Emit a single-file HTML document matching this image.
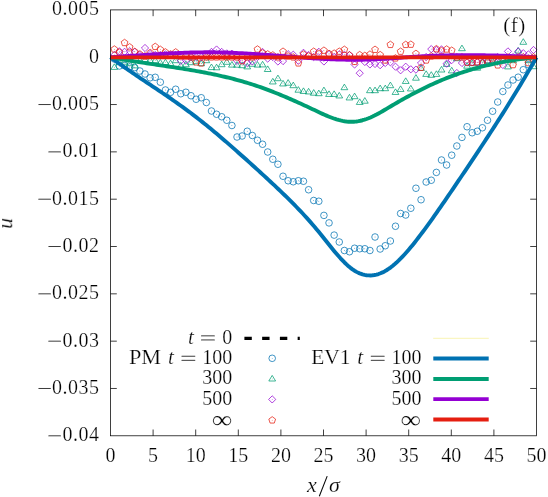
<!DOCTYPE html>
<html><head><meta charset="utf-8"><title>plot</title>
<style>html,body{margin:0;padding:0;background:#fff;}body{width:548px;height:497px;position:relative;overflow:hidden;font-family:"Liberation Serif",serif;}</style>
</head><body>
<svg width="548" height="497" viewBox="0 0 548 497" style="position:absolute;left:0;top:0">
<rect width="548" height="497" fill="#fff"/>
<g stroke="#000" stroke-width="0.75" fill="none">
<path d="M153.10,435.80 v-6.3 M153.10,9.90 v6.3"/>
<path d="M195.70,435.80 v-6.3 M195.70,9.90 v6.3"/>
<path d="M238.30,435.80 v-6.3 M238.30,9.90 v6.3"/>
<path d="M280.90,435.80 v-6.3 M280.90,9.90 v6.3"/>
<path d="M323.50,435.80 v-6.3 M323.50,9.90 v6.3"/>
<path d="M366.10,435.80 v-6.3 M366.10,9.90 v6.3"/>
<path d="M408.70,435.80 v-6.3 M408.70,9.90 v6.3"/>
<path d="M451.30,435.80 v-6.3 M451.30,9.90 v6.3"/>
<path d="M493.90,435.80 v-6.3 M493.90,9.90 v6.3"/>
<path d="M110.50,57.22 h6.3 M536.50,57.22 h-6.3"/>
<path d="M110.50,104.54 h6.3 M536.50,104.54 h-6.3"/>
<path d="M110.50,151.87 h6.3 M536.50,151.87 h-6.3"/>
<path d="M110.50,199.19 h6.3 M536.50,199.19 h-6.3"/>
<path d="M110.50,246.51 h6.3 M536.50,246.51 h-6.3"/>
<path d="M110.50,293.83 h6.3 M536.50,293.83 h-6.3"/>
<path d="M110.50,341.16 h6.3 M536.50,341.16 h-6.3"/>
<path d="M110.50,388.48 h6.3 M536.50,388.48 h-6.3"/>
</g>
<g><circle cx="114.33" cy="59.00" r="3.3" fill="none" stroke="#0072B2" stroke-width="0.75"/><circle cx="114.33" cy="59.00" r="0.4" fill="#0072B2"/><circle cx="119.44" cy="66.00" r="3.3" fill="none" stroke="#0072B2" stroke-width="0.75"/><circle cx="119.44" cy="66.00" r="0.4" fill="#0072B2"/><circle cx="124.55" cy="65.50" r="3.3" fill="none" stroke="#0072B2" stroke-width="0.75"/><circle cx="124.55" cy="65.50" r="0.4" fill="#0072B2"/><circle cx="129.67" cy="67.00" r="3.3" fill="none" stroke="#0072B2" stroke-width="0.75"/><circle cx="129.67" cy="67.00" r="0.4" fill="#0072B2"/><circle cx="134.78" cy="67.60" r="3.3" fill="none" stroke="#0072B2" stroke-width="0.75"/><circle cx="134.78" cy="67.60" r="0.4" fill="#0072B2"/><circle cx="139.89" cy="71.00" r="3.3" fill="none" stroke="#0072B2" stroke-width="0.75"/><circle cx="139.89" cy="71.00" r="0.4" fill="#0072B2"/><circle cx="145.00" cy="74.00" r="3.3" fill="none" stroke="#0072B2" stroke-width="0.75"/><circle cx="145.00" cy="74.00" r="0.4" fill="#0072B2"/><circle cx="150.11" cy="77.80" r="3.3" fill="none" stroke="#0072B2" stroke-width="0.75"/><circle cx="150.11" cy="77.80" r="0.4" fill="#0072B2"/><circle cx="155.23" cy="77.30" r="3.3" fill="none" stroke="#0072B2" stroke-width="0.75"/><circle cx="155.23" cy="77.30" r="0.4" fill="#0072B2"/><circle cx="160.34" cy="82.20" r="3.3" fill="none" stroke="#0072B2" stroke-width="0.75"/><circle cx="160.34" cy="82.20" r="0.4" fill="#0072B2"/><circle cx="165.45" cy="90.00" r="3.3" fill="none" stroke="#0072B2" stroke-width="0.75"/><circle cx="165.45" cy="90.00" r="0.4" fill="#0072B2"/><circle cx="170.56" cy="92.30" r="3.3" fill="none" stroke="#0072B2" stroke-width="0.75"/><circle cx="170.56" cy="92.30" r="0.4" fill="#0072B2"/><circle cx="175.67" cy="89.25" r="3.3" fill="none" stroke="#0072B2" stroke-width="0.75"/><circle cx="175.67" cy="89.25" r="0.4" fill="#0072B2"/><circle cx="180.79" cy="93.75" r="3.3" fill="none" stroke="#0072B2" stroke-width="0.75"/><circle cx="180.79" cy="93.75" r="0.4" fill="#0072B2"/><circle cx="185.90" cy="92.25" r="3.3" fill="none" stroke="#0072B2" stroke-width="0.75"/><circle cx="185.90" cy="92.25" r="0.4" fill="#0072B2"/><circle cx="191.01" cy="95.75" r="3.3" fill="none" stroke="#0072B2" stroke-width="0.75"/><circle cx="191.01" cy="95.75" r="0.4" fill="#0072B2"/><circle cx="196.12" cy="99.25" r="3.3" fill="none" stroke="#0072B2" stroke-width="0.75"/><circle cx="196.12" cy="99.25" r="0.4" fill="#0072B2"/><circle cx="201.23" cy="97.75" r="3.3" fill="none" stroke="#0072B2" stroke-width="0.75"/><circle cx="201.23" cy="97.75" r="0.4" fill="#0072B2"/><circle cx="206.35" cy="102.50" r="3.3" fill="none" stroke="#0072B2" stroke-width="0.75"/><circle cx="206.35" cy="102.50" r="0.4" fill="#0072B2"/><circle cx="211.46" cy="111.00" r="3.3" fill="none" stroke="#0072B2" stroke-width="0.75"/><circle cx="211.46" cy="111.00" r="0.4" fill="#0072B2"/><circle cx="216.57" cy="114.25" r="3.3" fill="none" stroke="#0072B2" stroke-width="0.75"/><circle cx="216.57" cy="114.25" r="0.4" fill="#0072B2"/><circle cx="221.68" cy="116.75" r="3.3" fill="none" stroke="#0072B2" stroke-width="0.75"/><circle cx="221.68" cy="116.75" r="0.4" fill="#0072B2"/><circle cx="226.79" cy="120.25" r="3.3" fill="none" stroke="#0072B2" stroke-width="0.75"/><circle cx="226.79" cy="120.25" r="0.4" fill="#0072B2"/><circle cx="231.91" cy="125.50" r="3.3" fill="none" stroke="#0072B2" stroke-width="0.75"/><circle cx="231.91" cy="125.50" r="0.4" fill="#0072B2"/><circle cx="237.02" cy="137.00" r="3.3" fill="none" stroke="#0072B2" stroke-width="0.75"/><circle cx="237.02" cy="137.00" r="0.4" fill="#0072B2"/><circle cx="242.13" cy="136.00" r="3.3" fill="none" stroke="#0072B2" stroke-width="0.75"/><circle cx="242.13" cy="136.00" r="0.4" fill="#0072B2"/><circle cx="247.24" cy="131.25" r="3.3" fill="none" stroke="#0072B2" stroke-width="0.75"/><circle cx="247.24" cy="131.25" r="0.4" fill="#0072B2"/><circle cx="252.35" cy="135.50" r="3.3" fill="none" stroke="#0072B2" stroke-width="0.75"/><circle cx="252.35" cy="135.50" r="0.4" fill="#0072B2"/><circle cx="257.47" cy="140.25" r="3.3" fill="none" stroke="#0072B2" stroke-width="0.75"/><circle cx="257.47" cy="140.25" r="0.4" fill="#0072B2"/><circle cx="262.58" cy="144.25" r="3.3" fill="none" stroke="#0072B2" stroke-width="0.75"/><circle cx="262.58" cy="144.25" r="0.4" fill="#0072B2"/><circle cx="267.69" cy="152.00" r="3.3" fill="none" stroke="#0072B2" stroke-width="0.75"/><circle cx="267.69" cy="152.00" r="0.4" fill="#0072B2"/><circle cx="272.80" cy="159.25" r="3.3" fill="none" stroke="#0072B2" stroke-width="0.75"/><circle cx="272.80" cy="159.25" r="0.4" fill="#0072B2"/><circle cx="277.91" cy="164.25" r="3.3" fill="none" stroke="#0072B2" stroke-width="0.75"/><circle cx="277.91" cy="164.25" r="0.4" fill="#0072B2"/><circle cx="283.03" cy="176.25" r="3.3" fill="none" stroke="#0072B2" stroke-width="0.75"/><circle cx="283.03" cy="176.25" r="0.4" fill="#0072B2"/><circle cx="288.14" cy="180.75" r="3.3" fill="none" stroke="#0072B2" stroke-width="0.75"/><circle cx="288.14" cy="180.75" r="0.4" fill="#0072B2"/><circle cx="293.25" cy="181.75" r="3.3" fill="none" stroke="#0072B2" stroke-width="0.75"/><circle cx="293.25" cy="181.75" r="0.4" fill="#0072B2"/><circle cx="298.36" cy="180.75" r="3.3" fill="none" stroke="#0072B2" stroke-width="0.75"/><circle cx="298.36" cy="180.75" r="0.4" fill="#0072B2"/><circle cx="303.47" cy="181.25" r="3.3" fill="none" stroke="#0072B2" stroke-width="0.75"/><circle cx="303.47" cy="181.25" r="0.4" fill="#0072B2"/><circle cx="308.59" cy="189.75" r="3.3" fill="none" stroke="#0072B2" stroke-width="0.75"/><circle cx="308.59" cy="189.75" r="0.4" fill="#0072B2"/><circle cx="313.70" cy="200.50" r="3.3" fill="none" stroke="#0072B2" stroke-width="0.75"/><circle cx="313.70" cy="200.50" r="0.4" fill="#0072B2"/><circle cx="318.81" cy="201.25" r="3.3" fill="none" stroke="#0072B2" stroke-width="0.75"/><circle cx="318.81" cy="201.25" r="0.4" fill="#0072B2"/><circle cx="323.92" cy="215.40" r="3.3" fill="none" stroke="#0072B2" stroke-width="0.75"/><circle cx="323.92" cy="215.40" r="0.4" fill="#0072B2"/><circle cx="329.03" cy="222.90" r="3.3" fill="none" stroke="#0072B2" stroke-width="0.75"/><circle cx="329.03" cy="222.90" r="0.4" fill="#0072B2"/><circle cx="334.15" cy="235.10" r="3.3" fill="none" stroke="#0072B2" stroke-width="0.75"/><circle cx="334.15" cy="235.10" r="0.4" fill="#0072B2"/><circle cx="339.26" cy="242.00" r="3.3" fill="none" stroke="#0072B2" stroke-width="0.75"/><circle cx="339.26" cy="242.00" r="0.4" fill="#0072B2"/><circle cx="344.37" cy="250.50" r="3.3" fill="none" stroke="#0072B2" stroke-width="0.75"/><circle cx="344.37" cy="250.50" r="0.4" fill="#0072B2"/><circle cx="349.48" cy="251.75" r="3.3" fill="none" stroke="#0072B2" stroke-width="0.75"/><circle cx="349.48" cy="251.75" r="0.4" fill="#0072B2"/><circle cx="354.59" cy="248.25" r="3.3" fill="none" stroke="#0072B2" stroke-width="0.75"/><circle cx="354.59" cy="248.25" r="0.4" fill="#0072B2"/><circle cx="359.71" cy="248.75" r="3.3" fill="none" stroke="#0072B2" stroke-width="0.75"/><circle cx="359.71" cy="248.75" r="0.4" fill="#0072B2"/><circle cx="364.82" cy="248.75" r="3.3" fill="none" stroke="#0072B2" stroke-width="0.75"/><circle cx="364.82" cy="248.75" r="0.4" fill="#0072B2"/><circle cx="369.93" cy="250.50" r="3.3" fill="none" stroke="#0072B2" stroke-width="0.75"/><circle cx="369.93" cy="250.50" r="0.4" fill="#0072B2"/><circle cx="375.04" cy="237.00" r="3.3" fill="none" stroke="#0072B2" stroke-width="0.75"/><circle cx="375.04" cy="237.00" r="0.4" fill="#0072B2"/><circle cx="380.15" cy="249.00" r="3.3" fill="none" stroke="#0072B2" stroke-width="0.75"/><circle cx="380.15" cy="249.00" r="0.4" fill="#0072B2"/><circle cx="385.27" cy="245.75" r="3.3" fill="none" stroke="#0072B2" stroke-width="0.75"/><circle cx="385.27" cy="245.75" r="0.4" fill="#0072B2"/><circle cx="390.38" cy="241.00" r="3.3" fill="none" stroke="#0072B2" stroke-width="0.75"/><circle cx="390.38" cy="241.00" r="0.4" fill="#0072B2"/><circle cx="395.49" cy="226.25" r="3.3" fill="none" stroke="#0072B2" stroke-width="0.75"/><circle cx="395.49" cy="226.25" r="0.4" fill="#0072B2"/><circle cx="400.60" cy="213.50" r="3.3" fill="none" stroke="#0072B2" stroke-width="0.75"/><circle cx="400.60" cy="213.50" r="0.4" fill="#0072B2"/><circle cx="405.71" cy="215.00" r="3.3" fill="none" stroke="#0072B2" stroke-width="0.75"/><circle cx="405.71" cy="215.00" r="0.4" fill="#0072B2"/><circle cx="410.83" cy="208.25" r="3.3" fill="none" stroke="#0072B2" stroke-width="0.75"/><circle cx="410.83" cy="208.25" r="0.4" fill="#0072B2"/><circle cx="415.94" cy="188.25" r="3.3" fill="none" stroke="#0072B2" stroke-width="0.75"/><circle cx="415.94" cy="188.25" r="0.4" fill="#0072B2"/><circle cx="421.05" cy="199.75" r="3.3" fill="none" stroke="#0072B2" stroke-width="0.75"/><circle cx="421.05" cy="199.75" r="0.4" fill="#0072B2"/><circle cx="426.16" cy="182.00" r="3.3" fill="none" stroke="#0072B2" stroke-width="0.75"/><circle cx="426.16" cy="182.00" r="0.4" fill="#0072B2"/><circle cx="431.27" cy="180.25" r="3.3" fill="none" stroke="#0072B2" stroke-width="0.75"/><circle cx="431.27" cy="180.25" r="0.4" fill="#0072B2"/><circle cx="436.39" cy="172.40" r="3.3" fill="none" stroke="#0072B2" stroke-width="0.75"/><circle cx="436.39" cy="172.40" r="0.4" fill="#0072B2"/><circle cx="441.50" cy="160.00" r="3.3" fill="none" stroke="#0072B2" stroke-width="0.75"/><circle cx="441.50" cy="160.00" r="0.4" fill="#0072B2"/><circle cx="446.61" cy="165.00" r="3.3" fill="none" stroke="#0072B2" stroke-width="0.75"/><circle cx="446.61" cy="165.00" r="0.4" fill="#0072B2"/><circle cx="451.72" cy="155.20" r="3.3" fill="none" stroke="#0072B2" stroke-width="0.75"/><circle cx="451.72" cy="155.20" r="0.4" fill="#0072B2"/><circle cx="456.83" cy="146.00" r="3.3" fill="none" stroke="#0072B2" stroke-width="0.75"/><circle cx="456.83" cy="146.00" r="0.4" fill="#0072B2"/><circle cx="461.95" cy="137.40" r="3.3" fill="none" stroke="#0072B2" stroke-width="0.75"/><circle cx="461.95" cy="137.40" r="0.4" fill="#0072B2"/><circle cx="467.06" cy="126.75" r="3.3" fill="none" stroke="#0072B2" stroke-width="0.75"/><circle cx="467.06" cy="126.75" r="0.4" fill="#0072B2"/><circle cx="472.17" cy="132.75" r="3.3" fill="none" stroke="#0072B2" stroke-width="0.75"/><circle cx="472.17" cy="132.75" r="0.4" fill="#0072B2"/><circle cx="477.28" cy="131.25" r="3.3" fill="none" stroke="#0072B2" stroke-width="0.75"/><circle cx="477.28" cy="131.25" r="0.4" fill="#0072B2"/><circle cx="482.39" cy="127.75" r="3.3" fill="none" stroke="#0072B2" stroke-width="0.75"/><circle cx="482.39" cy="127.75" r="0.4" fill="#0072B2"/><circle cx="487.51" cy="120.25" r="3.3" fill="none" stroke="#0072B2" stroke-width="0.75"/><circle cx="487.51" cy="120.25" r="0.4" fill="#0072B2"/><circle cx="492.62" cy="111.25" r="3.3" fill="none" stroke="#0072B2" stroke-width="0.75"/><circle cx="492.62" cy="111.25" r="0.4" fill="#0072B2"/><circle cx="497.73" cy="102.00" r="3.3" fill="none" stroke="#0072B2" stroke-width="0.75"/><circle cx="497.73" cy="102.00" r="0.4" fill="#0072B2"/><circle cx="502.84" cy="91.50" r="3.3" fill="none" stroke="#0072B2" stroke-width="0.75"/><circle cx="502.84" cy="91.50" r="0.4" fill="#0072B2"/><circle cx="507.95" cy="85.00" r="3.3" fill="none" stroke="#0072B2" stroke-width="0.75"/><circle cx="507.95" cy="85.00" r="0.4" fill="#0072B2"/><circle cx="513.07" cy="80.00" r="3.3" fill="none" stroke="#0072B2" stroke-width="0.75"/><circle cx="513.07" cy="80.00" r="0.4" fill="#0072B2"/><circle cx="518.18" cy="77.20" r="3.3" fill="none" stroke="#0072B2" stroke-width="0.75"/><circle cx="518.18" cy="77.20" r="0.4" fill="#0072B2"/><circle cx="523.29" cy="69.70" r="3.3" fill="none" stroke="#0072B2" stroke-width="0.75"/><circle cx="523.29" cy="69.70" r="0.4" fill="#0072B2"/><circle cx="528.40" cy="64.70" r="3.3" fill="none" stroke="#0072B2" stroke-width="0.75"/><circle cx="528.40" cy="64.70" r="0.4" fill="#0072B2"/><circle cx="533.51" cy="60.00" r="3.3" fill="none" stroke="#0072B2" stroke-width="0.75"/><circle cx="533.51" cy="60.00" r="0.4" fill="#0072B2"/><circle cx="114.33" cy="67.30" r="0.4" fill="#009E73"/><path d="M114.33,63.80 L117.73,69.40 L110.93,69.40 Z" fill="none" stroke="#009E73" stroke-width="0.75"/><circle cx="119.44" cy="62.60" r="0.4" fill="#009E73"/><path d="M119.44,59.10 L122.84,64.70 L116.04,64.70 Z" fill="none" stroke="#009E73" stroke-width="0.75"/><circle cx="124.55" cy="62.10" r="0.4" fill="#009E73"/><path d="M124.55,58.60 L127.95,64.20 L121.15,64.20 Z" fill="none" stroke="#009E73" stroke-width="0.75"/><circle cx="129.67" cy="63.60" r="0.4" fill="#009E73"/><path d="M129.67,60.10 L133.07,65.70 L126.27,65.70 Z" fill="none" stroke="#009E73" stroke-width="0.75"/><circle cx="134.78" cy="65.80" r="0.4" fill="#009E73"/><path d="M134.78,62.30 L138.18,67.90 L131.38,67.90 Z" fill="none" stroke="#009E73" stroke-width="0.75"/><circle cx="139.89" cy="60.60" r="0.4" fill="#009E73"/><path d="M139.89,57.10 L143.29,62.70 L136.49,62.70 Z" fill="none" stroke="#009E73" stroke-width="0.75"/><circle cx="145.00" cy="59.60" r="0.4" fill="#009E73"/><path d="M145.00,56.10 L148.40,61.70 L141.60,61.70 Z" fill="none" stroke="#009E73" stroke-width="0.75"/><circle cx="150.11" cy="60.60" r="0.4" fill="#009E73"/><path d="M150.11,57.10 L153.51,62.70 L146.71,62.70 Z" fill="none" stroke="#009E73" stroke-width="0.75"/><circle cx="155.23" cy="60.60" r="0.4" fill="#009E73"/><path d="M155.23,57.10 L158.63,62.70 L151.83,62.70 Z" fill="none" stroke="#009E73" stroke-width="0.75"/><circle cx="160.34" cy="62.90" r="0.4" fill="#009E73"/><path d="M160.34,59.40 L163.74,65.00 L156.94,65.00 Z" fill="none" stroke="#009E73" stroke-width="0.75"/><circle cx="165.45" cy="62.60" r="0.4" fill="#009E73"/><path d="M165.45,59.10 L168.85,64.70 L162.05,64.70 Z" fill="none" stroke="#009E73" stroke-width="0.75"/><circle cx="170.56" cy="63.60" r="0.4" fill="#009E73"/><path d="M170.56,60.10 L173.96,65.70 L167.16,65.70 Z" fill="none" stroke="#009E73" stroke-width="0.75"/><circle cx="175.67" cy="60.60" r="0.4" fill="#009E73"/><path d="M175.67,57.10 L179.07,62.70 L172.27,62.70 Z" fill="none" stroke="#009E73" stroke-width="0.75"/><circle cx="180.79" cy="65.80" r="0.4" fill="#009E73"/><path d="M180.79,62.30 L184.19,67.90 L177.39,67.90 Z" fill="none" stroke="#009E73" stroke-width="0.75"/><circle cx="185.90" cy="64.60" r="0.4" fill="#009E73"/><path d="M185.90,61.10 L189.30,66.70 L182.50,66.70 Z" fill="none" stroke="#009E73" stroke-width="0.75"/><circle cx="191.01" cy="62.60" r="0.4" fill="#009E73"/><path d="M191.01,59.10 L194.41,64.70 L187.61,64.70 Z" fill="none" stroke="#009E73" stroke-width="0.75"/><circle cx="196.12" cy="61.60" r="0.4" fill="#009E73"/><path d="M196.12,58.10 L199.52,63.70 L192.72,63.70 Z" fill="none" stroke="#009E73" stroke-width="0.75"/><circle cx="201.23" cy="63.60" r="0.4" fill="#009E73"/><path d="M201.23,60.10 L204.63,65.70 L197.83,65.70 Z" fill="none" stroke="#009E73" stroke-width="0.75"/><circle cx="206.35" cy="60.60" r="0.4" fill="#009E73"/><path d="M206.35,57.10 L209.75,62.70 L202.95,62.70 Z" fill="none" stroke="#009E73" stroke-width="0.75"/><circle cx="211.46" cy="67.50" r="0.4" fill="#009E73"/><path d="M211.46,64.00 L214.86,69.60 L208.06,69.60 Z" fill="none" stroke="#009E73" stroke-width="0.75"/><circle cx="216.57" cy="67.70" r="0.4" fill="#009E73"/><path d="M216.57,64.20 L219.97,69.80 L213.17,69.80 Z" fill="none" stroke="#009E73" stroke-width="0.75"/><circle cx="221.68" cy="64.60" r="0.4" fill="#009E73"/><path d="M221.68,61.10 L225.08,66.70 L218.28,66.70 Z" fill="none" stroke="#009E73" stroke-width="0.75"/><circle cx="226.79" cy="62.20" r="0.4" fill="#009E73"/><path d="M226.79,58.70 L230.19,64.30 L223.39,64.30 Z" fill="none" stroke="#009E73" stroke-width="0.75"/><circle cx="231.91" cy="65.00" r="0.4" fill="#009E73"/><path d="M231.91,61.50 L235.31,67.10 L228.51,67.10 Z" fill="none" stroke="#009E73" stroke-width="0.75"/><circle cx="237.02" cy="65.10" r="0.4" fill="#009E73"/><path d="M237.02,61.60 L240.42,67.20 L233.62,67.20 Z" fill="none" stroke="#009E73" stroke-width="0.75"/><circle cx="242.13" cy="65.60" r="0.4" fill="#009E73"/><path d="M242.13,62.10 L245.53,67.70 L238.73,67.70 Z" fill="none" stroke="#009E73" stroke-width="0.75"/><circle cx="247.24" cy="66.80" r="0.4" fill="#009E73"/><path d="M247.24,63.30 L250.64,68.90 L243.84,68.90 Z" fill="none" stroke="#009E73" stroke-width="0.75"/><circle cx="252.35" cy="64.20" r="0.4" fill="#009E73"/><path d="M252.35,60.70 L255.75,66.30 L248.95,66.30 Z" fill="none" stroke="#009E73" stroke-width="0.75"/><circle cx="257.47" cy="65.00" r="0.4" fill="#009E73"/><path d="M257.47,61.50 L260.87,67.10 L254.07,67.10 Z" fill="none" stroke="#009E73" stroke-width="0.75"/><circle cx="262.58" cy="64.80" r="0.4" fill="#009E73"/><path d="M262.58,61.30 L265.98,66.90 L259.18,66.90 Z" fill="none" stroke="#009E73" stroke-width="0.75"/><circle cx="267.69" cy="69.40" r="0.4" fill="#009E73"/><path d="M267.69,65.90 L271.09,71.50 L264.29,71.50 Z" fill="none" stroke="#009E73" stroke-width="0.75"/><circle cx="272.80" cy="81.85" r="0.4" fill="#009E73"/><path d="M272.80,78.35 L276.20,83.95 L269.40,83.95 Z" fill="none" stroke="#009E73" stroke-width="0.75"/><circle cx="277.91" cy="78.60" r="0.4" fill="#009E73"/><path d="M277.91,75.10 L281.31,80.70 L274.51,80.70 Z" fill="none" stroke="#009E73" stroke-width="0.75"/><circle cx="283.03" cy="83.85" r="0.4" fill="#009E73"/><path d="M283.03,80.35 L286.43,85.95 L279.63,85.95 Z" fill="none" stroke="#009E73" stroke-width="0.75"/><circle cx="288.14" cy="83.10" r="0.4" fill="#009E73"/><path d="M288.14,79.60 L291.54,85.20 L284.74,85.20 Z" fill="none" stroke="#009E73" stroke-width="0.75"/><circle cx="293.25" cy="85.60" r="0.4" fill="#009E73"/><path d="M293.25,82.10 L296.65,87.70 L289.85,87.70 Z" fill="none" stroke="#009E73" stroke-width="0.75"/><circle cx="298.36" cy="90.10" r="0.4" fill="#009E73"/><path d="M298.36,86.60 L301.76,92.20 L294.96,92.20 Z" fill="none" stroke="#009E73" stroke-width="0.75"/><circle cx="303.47" cy="91.35" r="0.4" fill="#009E73"/><path d="M303.47,87.85 L306.87,93.45 L300.07,93.45 Z" fill="none" stroke="#009E73" stroke-width="0.75"/><circle cx="308.59" cy="91.85" r="0.4" fill="#009E73"/><path d="M308.59,88.35 L311.99,93.95 L305.19,93.95 Z" fill="none" stroke="#009E73" stroke-width="0.75"/><circle cx="313.70" cy="93.10" r="0.4" fill="#009E73"/><path d="M313.70,89.60 L317.10,95.20 L310.30,95.20 Z" fill="none" stroke="#009E73" stroke-width="0.75"/><circle cx="318.81" cy="93.60" r="0.4" fill="#009E73"/><path d="M318.81,90.10 L322.21,95.70 L315.41,95.70 Z" fill="none" stroke="#009E73" stroke-width="0.75"/><circle cx="323.92" cy="90.60" r="0.4" fill="#009E73"/><path d="M323.92,87.10 L327.32,92.70 L320.52,92.70 Z" fill="none" stroke="#009E73" stroke-width="0.75"/><circle cx="329.03" cy="94.35" r="0.4" fill="#009E73"/><path d="M329.03,90.85 L332.43,96.45 L325.63,96.45 Z" fill="none" stroke="#009E73" stroke-width="0.75"/><circle cx="334.15" cy="94.35" r="0.4" fill="#009E73"/><path d="M334.15,90.85 L337.55,96.45 L330.75,96.45 Z" fill="none" stroke="#009E73" stroke-width="0.75"/><circle cx="339.26" cy="95.85" r="0.4" fill="#009E73"/><path d="M339.26,92.35 L342.66,97.95 L335.86,97.95 Z" fill="none" stroke="#009E73" stroke-width="0.75"/><circle cx="344.37" cy="87.60" r="0.4" fill="#009E73"/><path d="M344.37,84.10 L347.77,89.70 L340.97,89.70 Z" fill="none" stroke="#009E73" stroke-width="0.75"/><circle cx="349.48" cy="97.85" r="0.4" fill="#009E73"/><path d="M349.48,94.35 L352.88,99.95 L346.08,99.95 Z" fill="none" stroke="#009E73" stroke-width="0.75"/><circle cx="354.59" cy="96.60" r="0.4" fill="#009E73"/><path d="M354.59,93.10 L357.99,98.70 L351.19,98.70 Z" fill="none" stroke="#009E73" stroke-width="0.75"/><circle cx="359.71" cy="102.35" r="0.4" fill="#009E73"/><path d="M359.71,98.85 L363.11,104.45 L356.31,104.45 Z" fill="none" stroke="#009E73" stroke-width="0.75"/><circle cx="364.82" cy="101.10" r="0.4" fill="#009E73"/><path d="M364.82,97.60 L368.22,103.20 L361.42,103.20 Z" fill="none" stroke="#009E73" stroke-width="0.75"/><circle cx="369.93" cy="90.60" r="0.4" fill="#009E73"/><path d="M369.93,87.10 L373.33,92.70 L366.53,92.70 Z" fill="none" stroke="#009E73" stroke-width="0.75"/><circle cx="375.04" cy="90.60" r="0.4" fill="#009E73"/><path d="M375.04,87.10 L378.44,92.70 L371.64,92.70 Z" fill="none" stroke="#009E73" stroke-width="0.75"/><circle cx="380.15" cy="88.60" r="0.4" fill="#009E73"/><path d="M380.15,85.10 L383.55,90.70 L376.75,90.70 Z" fill="none" stroke="#009E73" stroke-width="0.75"/><circle cx="385.27" cy="88.60" r="0.4" fill="#009E73"/><path d="M385.27,85.10 L388.67,90.70 L381.87,90.70 Z" fill="none" stroke="#009E73" stroke-width="0.75"/><circle cx="390.38" cy="85.60" r="0.4" fill="#009E73"/><path d="M390.38,82.10 L393.78,87.70 L386.98,87.70 Z" fill="none" stroke="#009E73" stroke-width="0.75"/><circle cx="395.49" cy="92.35" r="0.4" fill="#009E73"/><path d="M395.49,88.85 L398.89,94.45 L392.09,94.45 Z" fill="none" stroke="#009E73" stroke-width="0.75"/><circle cx="400.60" cy="89.35" r="0.4" fill="#009E73"/><path d="M400.60,85.85 L404.00,91.45 L397.20,91.45 Z" fill="none" stroke="#009E73" stroke-width="0.75"/><circle cx="405.71" cy="81.35" r="0.4" fill="#009E73"/><path d="M405.71,77.85 L409.11,83.45 L402.31,83.45 Z" fill="none" stroke="#009E73" stroke-width="0.75"/><circle cx="410.83" cy="88.85" r="0.4" fill="#009E73"/><path d="M410.83,85.35 L414.23,90.95 L407.43,90.95 Z" fill="none" stroke="#009E73" stroke-width="0.75"/><circle cx="415.94" cy="78.10" r="0.4" fill="#009E73"/><path d="M415.94,74.60 L419.34,80.20 L412.54,80.20 Z" fill="none" stroke="#009E73" stroke-width="0.75"/><circle cx="421.05" cy="68.30" r="0.4" fill="#009E73"/><path d="M421.05,64.80 L424.45,70.40 L417.65,70.40 Z" fill="none" stroke="#009E73" stroke-width="0.75"/><circle cx="426.16" cy="74.30" r="0.4" fill="#009E73"/><path d="M426.16,70.80 L429.56,76.40 L422.76,76.40 Z" fill="none" stroke="#009E73" stroke-width="0.75"/><circle cx="431.27" cy="75.20" r="0.4" fill="#009E73"/><path d="M431.27,71.70 L434.67,77.30 L427.87,77.30 Z" fill="none" stroke="#009E73" stroke-width="0.75"/><circle cx="436.39" cy="74.30" r="0.4" fill="#009E73"/><path d="M436.39,70.80 L439.79,76.40 L432.99,76.40 Z" fill="none" stroke="#009E73" stroke-width="0.75"/><circle cx="441.50" cy="69.90" r="0.4" fill="#009E73"/><path d="M441.50,66.40 L444.90,72.00 L438.10,72.00 Z" fill="none" stroke="#009E73" stroke-width="0.75"/><circle cx="446.61" cy="64.30" r="0.4" fill="#009E73"/><path d="M446.61,60.80 L450.01,66.40 L443.21,66.40 Z" fill="none" stroke="#009E73" stroke-width="0.75"/><circle cx="451.72" cy="70.80" r="0.4" fill="#009E73"/><path d="M451.72,67.30 L455.12,72.90 L448.32,72.90 Z" fill="none" stroke="#009E73" stroke-width="0.75"/><circle cx="456.83" cy="58.60" r="0.4" fill="#009E73"/><path d="M456.83,55.10 L460.23,60.70 L453.43,60.70 Z" fill="none" stroke="#009E73" stroke-width="0.75"/><circle cx="461.95" cy="48.60" r="0.4" fill="#009E73"/><path d="M461.95,45.10 L465.35,50.70 L458.55,50.70 Z" fill="none" stroke="#009E73" stroke-width="0.75"/><circle cx="467.06" cy="66.10" r="0.4" fill="#009E73"/><path d="M467.06,62.60 L470.46,68.20 L463.66,68.20 Z" fill="none" stroke="#009E73" stroke-width="0.75"/><circle cx="472.17" cy="63.60" r="0.4" fill="#009E73"/><path d="M472.17,60.10 L475.57,65.70 L468.77,65.70 Z" fill="none" stroke="#009E73" stroke-width="0.75"/><circle cx="477.28" cy="68.10" r="0.4" fill="#009E73"/><path d="M477.28,64.60 L480.68,70.20 L473.88,70.20 Z" fill="none" stroke="#009E73" stroke-width="0.75"/><circle cx="482.39" cy="62.60" r="0.4" fill="#009E73"/><path d="M482.39,59.10 L485.79,64.70 L478.99,64.70 Z" fill="none" stroke="#009E73" stroke-width="0.75"/><circle cx="487.51" cy="60.60" r="0.4" fill="#009E73"/><path d="M487.51,57.10 L490.91,62.70 L484.11,62.70 Z" fill="none" stroke="#009E73" stroke-width="0.75"/><circle cx="492.62" cy="61.60" r="0.4" fill="#009E73"/><path d="M492.62,58.10 L496.02,63.70 L489.22,63.70 Z" fill="none" stroke="#009E73" stroke-width="0.75"/><circle cx="497.73" cy="60.60" r="0.4" fill="#009E73"/><path d="M497.73,57.10 L501.13,62.70 L494.33,62.70 Z" fill="none" stroke="#009E73" stroke-width="0.75"/><circle cx="502.84" cy="60.60" r="0.4" fill="#009E73"/><path d="M502.84,57.10 L506.24,62.70 L499.44,62.70 Z" fill="none" stroke="#009E73" stroke-width="0.75"/><circle cx="507.95" cy="66.80" r="0.4" fill="#009E73"/><path d="M507.95,63.30 L511.35,68.90 L504.55,68.90 Z" fill="none" stroke="#009E73" stroke-width="0.75"/><circle cx="513.07" cy="60.60" r="0.4" fill="#009E73"/><path d="M513.07,57.10 L516.47,62.70 L509.67,62.70 Z" fill="none" stroke="#009E73" stroke-width="0.75"/><circle cx="518.18" cy="50.90" r="0.4" fill="#009E73"/><path d="M518.18,47.40 L521.58,53.00 L514.78,53.00 Z" fill="none" stroke="#009E73" stroke-width="0.75"/><circle cx="523.29" cy="42.20" r="0.4" fill="#009E73"/><path d="M523.29,38.70 L526.69,44.30 L519.89,44.30 Z" fill="none" stroke="#009E73" stroke-width="0.75"/><circle cx="528.40" cy="60.60" r="0.4" fill="#009E73"/><path d="M528.40,57.10 L531.80,62.70 L525.00,62.70 Z" fill="none" stroke="#009E73" stroke-width="0.75"/><circle cx="533.51" cy="66.60" r="0.4" fill="#009E73"/><path d="M533.51,63.10 L536.91,68.70 L530.11,68.70 Z" fill="none" stroke="#009E73" stroke-width="0.75"/><circle cx="114.33" cy="55.00" r="0.4" fill="#9400D3"/><path d="M114.33,51.40 L117.93,55.00 L114.33,58.60 L110.73,55.00 Z" fill="none" stroke="#9400D3" stroke-width="0.75"/><circle cx="119.44" cy="51.30" r="0.4" fill="#9400D3"/><path d="M119.44,47.70 L123.04,51.30 L119.44,54.90 L115.84,51.30 Z" fill="none" stroke="#9400D3" stroke-width="0.75"/><circle cx="124.55" cy="51.80" r="0.4" fill="#9400D3"/><path d="M124.55,48.20 L128.15,51.80 L124.55,55.40 L120.95,51.80 Z" fill="none" stroke="#9400D3" stroke-width="0.75"/><circle cx="129.67" cy="51.30" r="0.4" fill="#9400D3"/><path d="M129.67,47.70 L133.27,51.30 L129.67,54.90 L126.07,51.30 Z" fill="none" stroke="#9400D3" stroke-width="0.75"/><circle cx="134.78" cy="51.80" r="0.4" fill="#9400D3"/><path d="M134.78,48.20 L138.38,51.80 L134.78,55.40 L131.18,51.80 Z" fill="none" stroke="#9400D3" stroke-width="0.75"/><circle cx="139.89" cy="55.00" r="0.4" fill="#9400D3"/><path d="M139.89,51.40 L143.49,55.00 L139.89,58.60 L136.29,55.00 Z" fill="none" stroke="#9400D3" stroke-width="0.75"/><circle cx="145.00" cy="48.00" r="0.4" fill="#9400D3"/><path d="M145.00,44.40 L148.60,48.00 L145.00,51.60 L141.40,48.00 Z" fill="none" stroke="#9400D3" stroke-width="0.75"/><circle cx="150.11" cy="54.00" r="0.4" fill="#9400D3"/><path d="M150.11,50.40 L153.71,54.00 L150.11,57.60 L146.51,54.00 Z" fill="none" stroke="#9400D3" stroke-width="0.75"/><circle cx="155.23" cy="55.00" r="0.4" fill="#9400D3"/><path d="M155.23,51.40 L158.83,55.00 L155.23,58.60 L151.63,55.00 Z" fill="none" stroke="#9400D3" stroke-width="0.75"/><circle cx="160.34" cy="55.00" r="0.4" fill="#9400D3"/><path d="M160.34,51.40 L163.94,55.00 L160.34,58.60 L156.74,55.00 Z" fill="none" stroke="#9400D3" stroke-width="0.75"/><circle cx="165.45" cy="54.30" r="0.4" fill="#9400D3"/><path d="M165.45,50.70 L169.05,54.30 L165.45,57.90 L161.85,54.30 Z" fill="none" stroke="#9400D3" stroke-width="0.75"/><circle cx="170.56" cy="55.00" r="0.4" fill="#9400D3"/><path d="M170.56,51.40 L174.16,55.00 L170.56,58.60 L166.96,55.00 Z" fill="none" stroke="#9400D3" stroke-width="0.75"/><circle cx="175.67" cy="55.00" r="0.4" fill="#9400D3"/><path d="M175.67,51.40 L179.27,55.00 L175.67,58.60 L172.07,55.00 Z" fill="none" stroke="#9400D3" stroke-width="0.75"/><circle cx="180.79" cy="60.80" r="0.4" fill="#9400D3"/><path d="M180.79,57.20 L184.39,60.80 L180.79,64.40 L177.19,60.80 Z" fill="none" stroke="#9400D3" stroke-width="0.75"/><circle cx="185.90" cy="60.30" r="0.4" fill="#9400D3"/><path d="M185.90,56.70 L189.50,60.30 L185.90,63.90 L182.30,60.30 Z" fill="none" stroke="#9400D3" stroke-width="0.75"/><circle cx="191.01" cy="57.00" r="0.4" fill="#9400D3"/><path d="M191.01,53.40 L194.61,57.00 L191.01,60.60 L187.41,57.00 Z" fill="none" stroke="#9400D3" stroke-width="0.75"/><circle cx="196.12" cy="57.00" r="0.4" fill="#9400D3"/><path d="M196.12,53.40 L199.72,57.00 L196.12,60.60 L192.52,57.00 Z" fill="none" stroke="#9400D3" stroke-width="0.75"/><circle cx="201.23" cy="57.00" r="0.4" fill="#9400D3"/><path d="M201.23,53.40 L204.83,57.00 L201.23,60.60 L197.63,57.00 Z" fill="none" stroke="#9400D3" stroke-width="0.75"/><circle cx="206.35" cy="55.00" r="0.4" fill="#9400D3"/><path d="M206.35,51.40 L209.95,55.00 L206.35,58.60 L202.75,55.00 Z" fill="none" stroke="#9400D3" stroke-width="0.75"/><circle cx="211.46" cy="51.90" r="0.4" fill="#9400D3"/><path d="M211.46,48.30 L215.06,51.90 L211.46,55.50 L207.86,51.90 Z" fill="none" stroke="#9400D3" stroke-width="0.75"/><circle cx="216.57" cy="49.50" r="0.4" fill="#9400D3"/><path d="M216.57,45.90 L220.17,49.50 L216.57,53.10 L212.97,49.50 Z" fill="none" stroke="#9400D3" stroke-width="0.75"/><circle cx="221.68" cy="51.90" r="0.4" fill="#9400D3"/><path d="M221.68,48.30 L225.28,51.90 L221.68,55.50 L218.08,51.90 Z" fill="none" stroke="#9400D3" stroke-width="0.75"/><circle cx="226.79" cy="53.40" r="0.4" fill="#9400D3"/><path d="M226.79,49.80 L230.39,53.40 L226.79,57.00 L223.19,53.40 Z" fill="none" stroke="#9400D3" stroke-width="0.75"/><circle cx="231.91" cy="53.70" r="0.4" fill="#9400D3"/><path d="M231.91,50.10 L235.51,53.70 L231.91,57.30 L228.31,53.70 Z" fill="none" stroke="#9400D3" stroke-width="0.75"/><circle cx="237.02" cy="60.80" r="0.4" fill="#9400D3"/><path d="M237.02,57.20 L240.62,60.80 L237.02,64.40 L233.42,60.80 Z" fill="none" stroke="#9400D3" stroke-width="0.75"/><circle cx="242.13" cy="60.50" r="0.4" fill="#9400D3"/><path d="M242.13,56.90 L245.73,60.50 L242.13,64.10 L238.53,60.50 Z" fill="none" stroke="#9400D3" stroke-width="0.75"/><circle cx="247.24" cy="63.00" r="0.4" fill="#9400D3"/><path d="M247.24,59.40 L250.84,63.00 L247.24,66.60 L243.64,63.00 Z" fill="none" stroke="#9400D3" stroke-width="0.75"/><circle cx="252.35" cy="61.50" r="0.4" fill="#9400D3"/><path d="M252.35,57.90 L255.95,61.50 L252.35,65.10 L248.75,61.50 Z" fill="none" stroke="#9400D3" stroke-width="0.75"/><circle cx="257.47" cy="57.00" r="0.4" fill="#9400D3"/><path d="M257.47,53.40 L261.07,57.00 L257.47,60.60 L253.87,57.00 Z" fill="none" stroke="#9400D3" stroke-width="0.75"/><circle cx="262.58" cy="52.00" r="0.4" fill="#9400D3"/><path d="M262.58,48.40 L266.18,52.00 L262.58,55.60 L258.98,52.00 Z" fill="none" stroke="#9400D3" stroke-width="0.75"/><circle cx="267.69" cy="58.60" r="0.4" fill="#9400D3"/><path d="M267.69,55.00 L271.29,58.60 L267.69,62.20 L264.09,58.60 Z" fill="none" stroke="#9400D3" stroke-width="0.75"/><circle cx="272.80" cy="57.00" r="0.4" fill="#9400D3"/><path d="M272.80,53.40 L276.40,57.00 L272.80,60.60 L269.20,57.00 Z" fill="none" stroke="#9400D3" stroke-width="0.75"/><circle cx="277.91" cy="61.50" r="0.4" fill="#9400D3"/><path d="M277.91,57.90 L281.51,61.50 L277.91,65.10 L274.31,61.50 Z" fill="none" stroke="#9400D3" stroke-width="0.75"/><circle cx="283.03" cy="61.10" r="0.4" fill="#9400D3"/><path d="M283.03,57.50 L286.63,61.10 L283.03,64.70 L279.43,61.10 Z" fill="none" stroke="#9400D3" stroke-width="0.75"/><circle cx="288.14" cy="54.20" r="0.4" fill="#9400D3"/><path d="M288.14,50.60 L291.74,54.20 L288.14,57.80 L284.54,54.20 Z" fill="none" stroke="#9400D3" stroke-width="0.75"/><circle cx="293.25" cy="54.70" r="0.4" fill="#9400D3"/><path d="M293.25,51.10 L296.85,54.70 L293.25,58.30 L289.65,54.70 Z" fill="none" stroke="#9400D3" stroke-width="0.75"/><circle cx="298.36" cy="60.80" r="0.4" fill="#9400D3"/><path d="M298.36,57.20 L301.96,60.80 L298.36,64.40 L294.76,60.80 Z" fill="none" stroke="#9400D3" stroke-width="0.75"/><circle cx="303.47" cy="52.80" r="0.4" fill="#9400D3"/><path d="M303.47,49.20 L307.07,52.80 L303.47,56.40 L299.87,52.80 Z" fill="none" stroke="#9400D3" stroke-width="0.75"/><circle cx="308.59" cy="55.00" r="0.4" fill="#9400D3"/><path d="M308.59,51.40 L312.19,55.00 L308.59,58.60 L304.99,55.00 Z" fill="none" stroke="#9400D3" stroke-width="0.75"/><circle cx="313.70" cy="57.00" r="0.4" fill="#9400D3"/><path d="M313.70,53.40 L317.30,57.00 L313.70,60.60 L310.10,57.00 Z" fill="none" stroke="#9400D3" stroke-width="0.75"/><circle cx="318.81" cy="51.80" r="0.4" fill="#9400D3"/><path d="M318.81,48.20 L322.41,51.80 L318.81,55.40 L315.21,51.80 Z" fill="none" stroke="#9400D3" stroke-width="0.75"/><circle cx="323.92" cy="61.50" r="0.4" fill="#9400D3"/><path d="M323.92,57.90 L327.52,61.50 L323.92,65.10 L320.32,61.50 Z" fill="none" stroke="#9400D3" stroke-width="0.75"/><circle cx="329.03" cy="54.20" r="0.4" fill="#9400D3"/><path d="M329.03,50.60 L332.63,54.20 L329.03,57.80 L325.43,54.20 Z" fill="none" stroke="#9400D3" stroke-width="0.75"/><circle cx="334.15" cy="57.00" r="0.4" fill="#9400D3"/><path d="M334.15,53.40 L337.75,57.00 L334.15,60.60 L330.55,57.00 Z" fill="none" stroke="#9400D3" stroke-width="0.75"/><circle cx="339.26" cy="54.20" r="0.4" fill="#9400D3"/><path d="M339.26,50.60 L342.86,54.20 L339.26,57.80 L335.66,54.20 Z" fill="none" stroke="#9400D3" stroke-width="0.75"/><circle cx="344.37" cy="54.70" r="0.4" fill="#9400D3"/><path d="M344.37,51.10 L347.97,54.70 L344.37,58.30 L340.77,54.70 Z" fill="none" stroke="#9400D3" stroke-width="0.75"/><circle cx="349.48" cy="55.00" r="0.4" fill="#9400D3"/><path d="M349.48,51.40 L353.08,55.00 L349.48,58.60 L345.88,55.00 Z" fill="none" stroke="#9400D3" stroke-width="0.75"/><circle cx="354.59" cy="64.50" r="0.4" fill="#9400D3"/><path d="M354.59,60.90 L358.19,64.50 L354.59,68.10 L350.99,64.50 Z" fill="none" stroke="#9400D3" stroke-width="0.75"/><circle cx="359.71" cy="73.20" r="0.4" fill="#9400D3"/><path d="M359.71,69.60 L363.31,73.20 L359.71,76.80 L356.11,73.20 Z" fill="none" stroke="#9400D3" stroke-width="0.75"/><circle cx="364.82" cy="62.00" r="0.4" fill="#9400D3"/><path d="M364.82,58.40 L368.42,62.00 L364.82,65.60 L361.22,62.00 Z" fill="none" stroke="#9400D3" stroke-width="0.75"/><circle cx="369.93" cy="64.50" r="0.4" fill="#9400D3"/><path d="M369.93,60.90 L373.53,64.50 L369.93,68.10 L366.33,64.50 Z" fill="none" stroke="#9400D3" stroke-width="0.75"/><circle cx="375.04" cy="64.00" r="0.4" fill="#9400D3"/><path d="M375.04,60.40 L378.64,64.00 L375.04,67.60 L371.44,64.00 Z" fill="none" stroke="#9400D3" stroke-width="0.75"/><circle cx="380.15" cy="65.20" r="0.4" fill="#9400D3"/><path d="M380.15,61.60 L383.75,65.20 L380.15,68.80 L376.55,65.20 Z" fill="none" stroke="#9400D3" stroke-width="0.75"/><circle cx="385.27" cy="63.00" r="0.4" fill="#9400D3"/><path d="M385.27,59.40 L388.87,63.00 L385.27,66.60 L381.67,63.00 Z" fill="none" stroke="#9400D3" stroke-width="0.75"/><circle cx="390.38" cy="62.30" r="0.4" fill="#9400D3"/><path d="M390.38,58.70 L393.98,62.30 L390.38,65.90 L386.78,62.30 Z" fill="none" stroke="#9400D3" stroke-width="0.75"/><circle cx="395.49" cy="66.70" r="0.4" fill="#9400D3"/><path d="M395.49,63.10 L399.09,66.70 L395.49,70.30 L391.89,66.70 Z" fill="none" stroke="#9400D3" stroke-width="0.75"/><circle cx="400.60" cy="70.30" r="0.4" fill="#9400D3"/><path d="M400.60,66.70 L404.20,70.30 L400.60,73.90 L397.00,70.30 Z" fill="none" stroke="#9400D3" stroke-width="0.75"/><circle cx="405.71" cy="66.70" r="0.4" fill="#9400D3"/><path d="M405.71,63.10 L409.31,66.70 L405.71,70.30 L402.11,66.70 Z" fill="none" stroke="#9400D3" stroke-width="0.75"/><circle cx="410.83" cy="69.30" r="0.4" fill="#9400D3"/><path d="M410.83,65.70 L414.43,69.30 L410.83,72.90 L407.23,69.30 Z" fill="none" stroke="#9400D3" stroke-width="0.75"/><circle cx="415.94" cy="69.60" r="0.4" fill="#9400D3"/><path d="M415.94,66.00 L419.54,69.60 L415.94,73.20 L412.34,69.60 Z" fill="none" stroke="#9400D3" stroke-width="0.75"/><circle cx="421.05" cy="63.00" r="0.4" fill="#9400D3"/><path d="M421.05,59.40 L424.65,63.00 L421.05,66.60 L417.45,63.00 Z" fill="none" stroke="#9400D3" stroke-width="0.75"/><circle cx="426.16" cy="57.00" r="0.4" fill="#9400D3"/><path d="M426.16,53.40 L429.76,57.00 L426.16,60.60 L422.56,57.00 Z" fill="none" stroke="#9400D3" stroke-width="0.75"/><circle cx="431.27" cy="49.10" r="0.4" fill="#9400D3"/><path d="M431.27,45.50 L434.87,49.10 L431.27,52.70 L427.67,49.10 Z" fill="none" stroke="#9400D3" stroke-width="0.75"/><circle cx="436.39" cy="49.90" r="0.4" fill="#9400D3"/><path d="M436.39,46.30 L439.99,49.90 L436.39,53.50 L432.79,49.90 Z" fill="none" stroke="#9400D3" stroke-width="0.75"/><circle cx="441.50" cy="49.40" r="0.4" fill="#9400D3"/><path d="M441.50,45.80 L445.10,49.40 L441.50,53.00 L437.90,49.40 Z" fill="none" stroke="#9400D3" stroke-width="0.75"/><circle cx="446.61" cy="63.70" r="0.4" fill="#9400D3"/><path d="M446.61,60.10 L450.21,63.70 L446.61,67.30 L443.01,63.70 Z" fill="none" stroke="#9400D3" stroke-width="0.75"/><circle cx="451.72" cy="60.10" r="0.4" fill="#9400D3"/><path d="M451.72,56.50 L455.32,60.10 L451.72,63.70 L448.12,60.10 Z" fill="none" stroke="#9400D3" stroke-width="0.75"/><circle cx="456.83" cy="73.00" r="0.4" fill="#9400D3"/><path d="M456.83,69.40 L460.43,73.00 L456.83,76.60 L453.23,73.00 Z" fill="none" stroke="#9400D3" stroke-width="0.75"/><circle cx="461.95" cy="63.00" r="0.4" fill="#9400D3"/><path d="M461.95,59.40 L465.55,63.00 L461.95,66.60 L458.35,63.00 Z" fill="none" stroke="#9400D3" stroke-width="0.75"/><circle cx="467.06" cy="62.30" r="0.4" fill="#9400D3"/><path d="M467.06,58.70 L470.66,62.30 L467.06,65.90 L463.46,62.30 Z" fill="none" stroke="#9400D3" stroke-width="0.75"/><circle cx="472.17" cy="62.30" r="0.4" fill="#9400D3"/><path d="M472.17,58.70 L475.77,62.30 L472.17,65.90 L468.57,62.30 Z" fill="none" stroke="#9400D3" stroke-width="0.75"/><circle cx="477.28" cy="62.30" r="0.4" fill="#9400D3"/><path d="M477.28,58.70 L480.88,62.30 L477.28,65.90 L473.68,62.30 Z" fill="none" stroke="#9400D3" stroke-width="0.75"/><circle cx="482.39" cy="62.00" r="0.4" fill="#9400D3"/><path d="M482.39,58.40 L485.99,62.00 L482.39,65.60 L478.79,62.00 Z" fill="none" stroke="#9400D3" stroke-width="0.75"/><circle cx="487.51" cy="60.90" r="0.4" fill="#9400D3"/><path d="M487.51,57.30 L491.11,60.90 L487.51,64.50 L483.91,60.90 Z" fill="none" stroke="#9400D3" stroke-width="0.75"/><circle cx="492.62" cy="60.00" r="0.4" fill="#9400D3"/><path d="M492.62,56.40 L496.22,60.00 L492.62,63.60 L489.02,60.00 Z" fill="none" stroke="#9400D3" stroke-width="0.75"/><circle cx="497.73" cy="57.00" r="0.4" fill="#9400D3"/><path d="M497.73,53.40 L501.33,57.00 L497.73,60.60 L494.13,57.00 Z" fill="none" stroke="#9400D3" stroke-width="0.75"/><circle cx="502.84" cy="65.00" r="0.4" fill="#9400D3"/><path d="M502.84,61.40 L506.44,65.00 L502.84,68.60 L499.24,65.00 Z" fill="none" stroke="#9400D3" stroke-width="0.75"/><circle cx="507.95" cy="51.40" r="0.4" fill="#9400D3"/><path d="M507.95,47.80 L511.55,51.40 L507.95,55.00 L504.35,51.40 Z" fill="none" stroke="#9400D3" stroke-width="0.75"/><circle cx="513.07" cy="57.00" r="0.4" fill="#9400D3"/><path d="M513.07,53.40 L516.67,57.00 L513.07,60.60 L509.47,57.00 Z" fill="none" stroke="#9400D3" stroke-width="0.75"/><circle cx="518.18" cy="51.40" r="0.4" fill="#9400D3"/><path d="M518.18,47.80 L521.78,51.40 L518.18,55.00 L514.58,51.40 Z" fill="none" stroke="#9400D3" stroke-width="0.75"/><circle cx="523.29" cy="53.20" r="0.4" fill="#9400D3"/><path d="M523.29,49.60 L526.89,53.20 L523.29,56.80 L519.69,53.20 Z" fill="none" stroke="#9400D3" stroke-width="0.75"/><circle cx="528.40" cy="54.40" r="0.4" fill="#9400D3"/><path d="M528.40,50.80 L532.00,54.40 L528.40,58.00 L524.80,54.40 Z" fill="none" stroke="#9400D3" stroke-width="0.75"/><circle cx="533.51" cy="50.00" r="0.4" fill="#9400D3"/><path d="M533.51,46.40 L537.11,50.00 L533.51,53.60 L529.91,50.00 Z" fill="none" stroke="#9400D3" stroke-width="0.75"/><circle cx="114.33" cy="49.30" r="0.4" fill="#E51E10"/><path d="M114.33,45.75 L117.71,48.20 L116.42,52.17 L112.24,52.17 L110.95,48.20 Z" fill="none" stroke="#E51E10" stroke-width="0.75"/><circle cx="119.44" cy="52.40" r="0.4" fill="#E51E10"/><path d="M119.44,48.85 L122.82,51.30 L121.53,55.27 L117.36,55.27 L116.07,51.30 Z" fill="none" stroke="#E51E10" stroke-width="0.75"/><circle cx="124.55" cy="42.80" r="0.4" fill="#E51E10"/><path d="M124.55,39.25 L127.93,41.70 L126.64,45.67 L122.47,45.67 L121.18,41.70 Z" fill="none" stroke="#E51E10" stroke-width="0.75"/><circle cx="129.67" cy="47.10" r="0.4" fill="#E51E10"/><path d="M129.67,43.55 L133.04,46.00 L131.75,49.97 L127.58,49.97 L126.29,46.00 Z" fill="none" stroke="#E51E10" stroke-width="0.75"/><circle cx="134.78" cy="51.70" r="0.4" fill="#E51E10"/><path d="M134.78,48.15 L138.15,50.60 L136.86,54.57 L132.69,54.57 L131.40,50.60 Z" fill="none" stroke="#E51E10" stroke-width="0.75"/><circle cx="139.89" cy="54.20" r="0.4" fill="#E51E10"/><path d="M139.89,50.65 L143.27,53.10 L141.98,57.07 L137.80,57.07 L136.51,53.10 Z" fill="none" stroke="#E51E10" stroke-width="0.75"/><circle cx="145.00" cy="56.20" r="0.4" fill="#E51E10"/><path d="M145.00,52.65 L148.38,55.10 L147.09,59.07 L142.92,59.07 L141.63,55.10 Z" fill="none" stroke="#E51E10" stroke-width="0.75"/><circle cx="150.11" cy="52.80" r="0.4" fill="#E51E10"/><path d="M150.11,49.25 L153.49,51.70 L152.20,55.67 L148.03,55.67 L146.74,51.70 Z" fill="none" stroke="#E51E10" stroke-width="0.75"/><circle cx="155.23" cy="46.70" r="0.4" fill="#E51E10"/><path d="M155.23,43.15 L158.60,45.60 L157.31,49.57 L153.14,49.57 L151.85,45.60 Z" fill="none" stroke="#E51E10" stroke-width="0.75"/><circle cx="160.34" cy="49.60" r="0.4" fill="#E51E10"/><path d="M160.34,46.05 L163.71,48.50 L162.42,52.47 L158.25,52.47 L156.96,48.50 Z" fill="none" stroke="#E51E10" stroke-width="0.75"/><circle cx="165.45" cy="52.20" r="0.4" fill="#E51E10"/><path d="M165.45,48.65 L168.83,51.10 L167.54,55.07 L163.36,55.07 L162.07,51.10 Z" fill="none" stroke="#E51E10" stroke-width="0.75"/><circle cx="170.56" cy="54.20" r="0.4" fill="#E51E10"/><path d="M170.56,50.65 L173.94,53.10 L172.65,57.07 L168.48,57.07 L167.19,53.10 Z" fill="none" stroke="#E51E10" stroke-width="0.75"/><circle cx="175.67" cy="52.20" r="0.4" fill="#E51E10"/><path d="M175.67,48.65 L179.05,51.10 L177.76,55.07 L173.59,55.07 L172.30,51.10 Z" fill="none" stroke="#E51E10" stroke-width="0.75"/><circle cx="180.79" cy="56.20" r="0.4" fill="#E51E10"/><path d="M180.79,52.65 L184.16,55.10 L182.87,59.07 L178.70,59.07 L177.41,55.10 Z" fill="none" stroke="#E51E10" stroke-width="0.75"/><circle cx="185.90" cy="56.20" r="0.4" fill="#E51E10"/><path d="M185.90,52.65 L189.27,55.10 L187.98,59.07 L183.81,59.07 L182.52,55.10 Z" fill="none" stroke="#E51E10" stroke-width="0.75"/><circle cx="191.01" cy="57.20" r="0.4" fill="#E51E10"/><path d="M191.01,53.65 L194.39,56.10 L193.10,60.07 L188.92,60.07 L187.63,56.10 Z" fill="none" stroke="#E51E10" stroke-width="0.75"/><circle cx="196.12" cy="62.20" r="0.4" fill="#E51E10"/><path d="M196.12,58.65 L199.50,61.10 L198.21,65.07 L194.04,65.07 L192.75,61.10 Z" fill="none" stroke="#E51E10" stroke-width="0.75"/><circle cx="201.23" cy="63.20" r="0.4" fill="#E51E10"/><path d="M201.23,59.65 L204.61,62.10 L203.32,66.07 L199.15,66.07 L197.86,62.10 Z" fill="none" stroke="#E51E10" stroke-width="0.75"/><circle cx="206.35" cy="57.20" r="0.4" fill="#E51E10"/><path d="M206.35,53.65 L209.72,56.10 L208.43,60.07 L204.26,60.07 L202.97,56.10 Z" fill="none" stroke="#E51E10" stroke-width="0.75"/><circle cx="211.46" cy="57.20" r="0.4" fill="#E51E10"/><path d="M211.46,53.65 L214.83,56.10 L213.54,60.07 L209.37,60.07 L208.08,56.10 Z" fill="none" stroke="#E51E10" stroke-width="0.75"/><circle cx="216.57" cy="57.20" r="0.4" fill="#E51E10"/><path d="M216.57,53.65 L219.95,56.10 L218.66,60.07 L214.48,60.07 L213.19,56.10 Z" fill="none" stroke="#E51E10" stroke-width="0.75"/><circle cx="221.68" cy="57.20" r="0.4" fill="#E51E10"/><path d="M221.68,53.65 L225.06,56.10 L223.77,60.07 L219.60,60.07 L218.31,56.10 Z" fill="none" stroke="#E51E10" stroke-width="0.75"/><circle cx="226.79" cy="57.20" r="0.4" fill="#E51E10"/><path d="M226.79,53.65 L230.17,56.10 L228.88,60.07 L224.71,60.07 L223.42,56.10 Z" fill="none" stroke="#E51E10" stroke-width="0.75"/><circle cx="231.91" cy="57.20" r="0.4" fill="#E51E10"/><path d="M231.91,53.65 L235.28,56.10 L233.99,60.07 L229.82,60.07 L228.53,56.10 Z" fill="none" stroke="#E51E10" stroke-width="0.75"/><circle cx="237.02" cy="57.20" r="0.4" fill="#E51E10"/><path d="M237.02,53.65 L240.39,56.10 L239.10,60.07 L234.93,60.07 L233.64,56.10 Z" fill="none" stroke="#E51E10" stroke-width="0.75"/><circle cx="242.13" cy="61.00" r="0.4" fill="#E51E10"/><path d="M242.13,57.45 L245.51,59.90 L244.22,63.87 L240.04,63.87 L238.75,59.90 Z" fill="none" stroke="#E51E10" stroke-width="0.75"/><circle cx="247.24" cy="57.20" r="0.4" fill="#E51E10"/><path d="M247.24,53.65 L250.62,56.10 L249.33,60.07 L245.16,60.07 L243.87,56.10 Z" fill="none" stroke="#E51E10" stroke-width="0.75"/><circle cx="252.35" cy="57.20" r="0.4" fill="#E51E10"/><path d="M252.35,53.65 L255.73,56.10 L254.44,60.07 L250.27,60.07 L248.98,56.10 Z" fill="none" stroke="#E51E10" stroke-width="0.75"/><circle cx="257.47" cy="49.30" r="0.4" fill="#E51E10"/><path d="M257.47,45.75 L260.84,48.20 L259.55,52.17 L255.38,52.17 L254.09,48.20 Z" fill="none" stroke="#E51E10" stroke-width="0.75"/><circle cx="262.58" cy="53.20" r="0.4" fill="#E51E10"/><path d="M262.58,49.65 L265.95,52.10 L264.66,56.07 L260.49,56.07 L259.20,52.10 Z" fill="none" stroke="#E51E10" stroke-width="0.75"/><circle cx="267.69" cy="54.20" r="0.4" fill="#E51E10"/><path d="M267.69,50.65 L271.07,53.10 L269.78,57.07 L265.60,57.07 L264.31,53.10 Z" fill="none" stroke="#E51E10" stroke-width="0.75"/><circle cx="272.80" cy="55.20" r="0.4" fill="#E51E10"/><path d="M272.80,51.65 L276.18,54.10 L274.89,58.07 L270.72,58.07 L269.43,54.10 Z" fill="none" stroke="#E51E10" stroke-width="0.75"/><circle cx="277.91" cy="57.20" r="0.4" fill="#E51E10"/><path d="M277.91,53.65 L281.29,56.10 L280.00,60.07 L275.83,60.07 L274.54,56.10 Z" fill="none" stroke="#E51E10" stroke-width="0.75"/><circle cx="283.03" cy="51.50" r="0.4" fill="#E51E10"/><path d="M283.03,47.95 L286.40,50.40 L285.11,54.37 L280.94,54.37 L279.65,50.40 Z" fill="none" stroke="#E51E10" stroke-width="0.75"/><circle cx="288.14" cy="56.20" r="0.4" fill="#E51E10"/><path d="M288.14,52.65 L291.51,55.10 L290.22,59.07 L286.05,59.07 L284.76,55.10 Z" fill="none" stroke="#E51E10" stroke-width="0.75"/><circle cx="293.25" cy="57.20" r="0.4" fill="#E51E10"/><path d="M293.25,53.65 L296.63,56.10 L295.34,60.07 L291.16,60.07 L289.87,56.10 Z" fill="none" stroke="#E51E10" stroke-width="0.75"/><circle cx="298.36" cy="63.20" r="0.4" fill="#E51E10"/><path d="M298.36,59.65 L301.74,62.10 L300.45,66.07 L296.28,66.07 L294.99,62.10 Z" fill="none" stroke="#E51E10" stroke-width="0.75"/><circle cx="303.47" cy="54.40" r="0.4" fill="#E51E10"/><path d="M303.47,50.85 L306.85,53.30 L305.56,57.27 L301.39,57.27 L300.10,53.30 Z" fill="none" stroke="#E51E10" stroke-width="0.75"/><circle cx="308.59" cy="56.20" r="0.4" fill="#E51E10"/><path d="M308.59,52.65 L311.96,55.10 L310.67,59.07 L306.50,59.07 L305.21,55.10 Z" fill="none" stroke="#E51E10" stroke-width="0.75"/><circle cx="313.70" cy="51.50" r="0.4" fill="#E51E10"/><path d="M313.70,47.95 L317.07,50.40 L315.78,54.37 L311.61,54.37 L310.32,50.40 Z" fill="none" stroke="#E51E10" stroke-width="0.75"/><circle cx="318.81" cy="53.70" r="0.4" fill="#E51E10"/><path d="M318.81,50.15 L322.19,52.60 L320.90,56.57 L316.72,56.57 L315.43,52.60 Z" fill="none" stroke="#E51E10" stroke-width="0.75"/><circle cx="323.92" cy="50.50" r="0.4" fill="#E51E10"/><path d="M323.92,46.95 L327.30,49.40 L326.01,53.37 L321.84,53.37 L320.55,49.40 Z" fill="none" stroke="#E51E10" stroke-width="0.75"/><circle cx="329.03" cy="53.70" r="0.4" fill="#E51E10"/><path d="M329.03,50.15 L332.41,52.60 L331.12,56.57 L326.95,56.57 L325.66,52.60 Z" fill="none" stroke="#E51E10" stroke-width="0.75"/><circle cx="334.15" cy="53.40" r="0.4" fill="#E51E10"/><path d="M334.15,49.85 L337.52,52.30 L336.23,56.27 L332.06,56.27 L330.77,52.30 Z" fill="none" stroke="#E51E10" stroke-width="0.75"/><circle cx="339.26" cy="51.50" r="0.4" fill="#E51E10"/><path d="M339.26,47.95 L342.63,50.40 L341.34,54.37 L337.17,54.37 L335.88,50.40 Z" fill="none" stroke="#E51E10" stroke-width="0.75"/><circle cx="344.37" cy="49.60" r="0.4" fill="#E51E10"/><path d="M344.37,46.05 L347.75,48.50 L346.46,52.47 L342.28,52.47 L340.99,48.50 Z" fill="none" stroke="#E51E10" stroke-width="0.75"/><circle cx="349.48" cy="55.20" r="0.4" fill="#E51E10"/><path d="M349.48,51.65 L352.86,54.10 L351.57,58.07 L347.40,58.07 L346.11,54.10 Z" fill="none" stroke="#E51E10" stroke-width="0.75"/><circle cx="354.59" cy="61.70" r="0.4" fill="#E51E10"/><path d="M354.59,58.15 L357.97,60.60 L356.68,64.57 L352.51,64.57 L351.22,60.60 Z" fill="none" stroke="#E51E10" stroke-width="0.75"/><circle cx="359.71" cy="54.90" r="0.4" fill="#E51E10"/><path d="M359.71,51.35 L363.08,53.80 L361.79,57.77 L357.62,57.77 L356.33,53.80 Z" fill="none" stroke="#E51E10" stroke-width="0.75"/><circle cx="364.82" cy="55.70" r="0.4" fill="#E51E10"/><path d="M364.82,52.15 L368.19,54.60 L366.90,58.57 L362.73,58.57 L361.44,54.60 Z" fill="none" stroke="#E51E10" stroke-width="0.75"/><circle cx="369.93" cy="54.40" r="0.4" fill="#E51E10"/><path d="M369.93,50.85 L373.31,53.30 L372.02,57.27 L367.84,57.27 L366.55,53.30 Z" fill="none" stroke="#E51E10" stroke-width="0.75"/><circle cx="375.04" cy="49.60" r="0.4" fill="#E51E10"/><path d="M375.04,46.05 L378.42,48.50 L377.13,52.47 L372.96,52.47 L371.67,48.50 Z" fill="none" stroke="#E51E10" stroke-width="0.75"/><circle cx="380.15" cy="54.90" r="0.4" fill="#E51E10"/><path d="M380.15,51.35 L383.53,53.80 L382.24,57.77 L378.07,57.77 L376.78,53.80 Z" fill="none" stroke="#E51E10" stroke-width="0.75"/><circle cx="385.27" cy="60.30" r="0.4" fill="#E51E10"/><path d="M385.27,56.75 L388.64,59.20 L387.35,63.17 L383.18,63.17 L381.89,59.20 Z" fill="none" stroke="#E51E10" stroke-width="0.75"/><circle cx="390.38" cy="44.70" r="0.4" fill="#E51E10"/><path d="M390.38,41.15 L393.75,43.60 L392.46,47.57 L388.29,47.57 L387.00,43.60 Z" fill="none" stroke="#E51E10" stroke-width="0.75"/><circle cx="395.49" cy="58.20" r="0.4" fill="#E51E10"/><path d="M395.49,54.65 L398.87,57.10 L397.58,61.07 L393.40,61.07 L392.11,57.10 Z" fill="none" stroke="#E51E10" stroke-width="0.75"/><circle cx="400.60" cy="51.50" r="0.4" fill="#E51E10"/><path d="M400.60,47.95 L403.98,50.40 L402.69,54.37 L398.52,54.37 L397.23,50.40 Z" fill="none" stroke="#E51E10" stroke-width="0.75"/><circle cx="405.71" cy="44.70" r="0.4" fill="#E51E10"/><path d="M405.71,41.15 L409.09,43.60 L407.80,47.57 L403.63,47.57 L402.34,43.60 Z" fill="none" stroke="#E51E10" stroke-width="0.75"/><circle cx="410.83" cy="44.50" r="0.4" fill="#E51E10"/><path d="M410.83,40.95 L414.20,43.40 L412.91,47.37 L408.74,47.37 L407.45,43.40 Z" fill="none" stroke="#E51E10" stroke-width="0.75"/><circle cx="415.94" cy="53.70" r="0.4" fill="#E51E10"/><path d="M415.94,50.15 L419.31,52.60 L418.02,56.57 L413.85,56.57 L412.56,52.60 Z" fill="none" stroke="#E51E10" stroke-width="0.75"/><circle cx="421.05" cy="67.60" r="0.4" fill="#E51E10"/><path d="M421.05,64.05 L424.43,66.50 L423.14,70.47 L418.96,70.47 L417.67,66.50 Z" fill="none" stroke="#E51E10" stroke-width="0.75"/><circle cx="426.16" cy="60.30" r="0.4" fill="#E51E10"/><path d="M426.16,56.75 L429.54,59.20 L428.25,63.17 L424.08,63.17 L422.79,59.20 Z" fill="none" stroke="#E51E10" stroke-width="0.75"/><circle cx="431.27" cy="56.20" r="0.4" fill="#E51E10"/><path d="M431.27,52.65 L434.65,55.10 L433.36,59.07 L429.19,59.07 L427.90,55.10 Z" fill="none" stroke="#E51E10" stroke-width="0.75"/><circle cx="436.39" cy="49.00" r="0.4" fill="#E51E10"/><path d="M436.39,45.45 L439.76,47.90 L438.47,51.87 L434.30,51.87 L433.01,47.90 Z" fill="none" stroke="#E51E10" stroke-width="0.75"/><circle cx="441.50" cy="50.80" r="0.4" fill="#E51E10"/><path d="M441.50,47.25 L444.87,49.70 L443.58,53.67 L439.41,53.67 L438.12,49.70 Z" fill="none" stroke="#E51E10" stroke-width="0.75"/><circle cx="446.61" cy="49.30" r="0.4" fill="#E51E10"/><path d="M446.61,45.75 L449.99,48.20 L448.70,52.17 L444.52,52.17 L443.23,48.20 Z" fill="none" stroke="#E51E10" stroke-width="0.75"/><circle cx="451.72" cy="50.50" r="0.4" fill="#E51E10"/><path d="M451.72,46.95 L455.10,49.40 L453.81,53.37 L449.64,53.37 L448.35,49.40 Z" fill="none" stroke="#E51E10" stroke-width="0.75"/><circle cx="456.83" cy="57.20" r="0.4" fill="#E51E10"/><path d="M456.83,53.65 L460.21,56.10 L458.92,60.07 L454.75,60.07 L453.46,56.10 Z" fill="none" stroke="#E51E10" stroke-width="0.75"/><circle cx="461.95" cy="57.20" r="0.4" fill="#E51E10"/><path d="M461.95,53.65 L465.32,56.10 L464.03,60.07 L459.86,60.07 L458.57,56.10 Z" fill="none" stroke="#E51E10" stroke-width="0.75"/><circle cx="467.06" cy="62.50" r="0.4" fill="#E51E10"/><path d="M467.06,58.95 L470.43,61.40 L469.14,65.37 L464.97,65.37 L463.68,61.40 Z" fill="none" stroke="#E51E10" stroke-width="0.75"/><circle cx="472.17" cy="62.50" r="0.4" fill="#E51E10"/><path d="M472.17,58.95 L475.55,61.40 L474.26,65.37 L470.08,65.37 L468.79,61.40 Z" fill="none" stroke="#E51E10" stroke-width="0.75"/><circle cx="477.28" cy="62.20" r="0.4" fill="#E51E10"/><path d="M477.28,58.65 L480.66,61.10 L479.37,65.07 L475.20,65.07 L473.91,61.10 Z" fill="none" stroke="#E51E10" stroke-width="0.75"/><circle cx="482.39" cy="63.20" r="0.4" fill="#E51E10"/><path d="M482.39,59.65 L485.77,62.10 L484.48,66.07 L480.31,66.07 L479.02,62.10 Z" fill="none" stroke="#E51E10" stroke-width="0.75"/><circle cx="487.51" cy="62.90" r="0.4" fill="#E51E10"/><path d="M487.51,59.35 L490.88,61.80 L489.59,65.77 L485.42,65.77 L484.13,61.80 Z" fill="none" stroke="#E51E10" stroke-width="0.75"/><circle cx="492.62" cy="58.20" r="0.4" fill="#E51E10"/><path d="M492.62,54.65 L495.99,57.10 L494.70,61.07 L490.53,61.07 L489.24,57.10 Z" fill="none" stroke="#E51E10" stroke-width="0.75"/><circle cx="497.73" cy="65.20" r="0.4" fill="#E51E10"/><path d="M497.73,61.65 L501.11,64.10 L499.82,68.07 L495.64,68.07 L494.35,64.10 Z" fill="none" stroke="#E51E10" stroke-width="0.75"/><circle cx="502.84" cy="58.20" r="0.4" fill="#E51E10"/><path d="M502.84,54.65 L506.22,57.10 L504.93,61.07 L500.76,61.07 L499.47,57.10 Z" fill="none" stroke="#E51E10" stroke-width="0.75"/><circle cx="507.95" cy="57.20" r="0.4" fill="#E51E10"/><path d="M507.95,53.65 L511.33,56.10 L510.04,60.07 L505.87,60.07 L504.58,56.10 Z" fill="none" stroke="#E51E10" stroke-width="0.75"/><circle cx="513.07" cy="64.90" r="0.4" fill="#E51E10"/><path d="M513.07,61.35 L516.44,63.80 L515.15,67.77 L510.98,67.77 L509.69,63.80 Z" fill="none" stroke="#E51E10" stroke-width="0.75"/><circle cx="518.18" cy="57.20" r="0.4" fill="#E51E10"/><path d="M518.18,53.65 L521.55,56.10 L520.26,60.07 L516.09,60.07 L514.80,56.10 Z" fill="none" stroke="#E51E10" stroke-width="0.75"/><circle cx="523.29" cy="57.20" r="0.4" fill="#E51E10"/><path d="M523.29,53.65 L526.67,56.10 L525.38,60.07 L521.20,60.07 L519.91,56.10 Z" fill="none" stroke="#E51E10" stroke-width="0.75"/><circle cx="528.40" cy="62.90" r="0.4" fill="#E51E10"/><path d="M528.40,59.35 L531.78,61.80 L530.49,65.77 L526.32,65.77 L525.03,61.80 Z" fill="none" stroke="#E51E10" stroke-width="0.75"/><circle cx="533.51" cy="57.20" r="0.4" fill="#E51E10"/><path d="M533.51,53.65 L536.89,56.10 L535.60,60.07 L531.43,60.07 L530.14,56.10 Z" fill="none" stroke="#E51E10" stroke-width="0.75"/></g>
<g fill="none" stroke-linecap="butt" stroke-linejoin="round">
<path d="M110.50,57.20 L112.50,58.69 L114.50,60.16 L116.50,61.61 L118.50,63.06 L120.50,64.49 L122.50,65.90 L124.50,67.31 L126.50,68.71 L128.50,70.09 L130.50,71.47 L132.50,72.84 L134.50,74.20 L136.50,75.56 L138.50,76.91 L140.50,78.26 L142.50,79.60 L144.50,80.94 L146.50,82.28 L148.50,83.62 L150.50,84.95 L152.50,86.29 L154.50,87.62 L156.50,88.96 L158.50,90.30 L160.50,91.65 L162.50,93.00 L164.50,94.35 L166.50,95.72 L168.50,97.08 L170.50,98.46 L172.50,99.84 L174.50,101.24 L176.50,102.64 L178.50,104.05 L180.50,105.48 L182.50,106.92 L184.50,108.37 L186.50,109.83 L188.50,111.32 L190.50,112.81 L192.50,114.33 L194.50,115.85 L196.50,117.40 L198.50,118.96 L200.50,120.53 L202.50,122.12 L204.50,123.72 L206.50,125.34 L208.50,126.97 L210.50,128.61 L212.50,130.26 L214.50,131.93 L216.50,133.61 L218.50,135.29 L220.50,136.99 L222.50,138.70 L224.50,140.42 L226.50,142.14 L228.50,143.88 L230.50,145.62 L232.50,147.37 L234.50,149.13 L236.50,150.90 L238.50,152.67 L240.50,154.45 L242.50,156.24 L244.50,158.03 L246.50,159.82 L248.50,161.62 L250.50,163.42 L252.50,165.23 L254.50,167.04 L256.50,168.86 L258.50,170.67 L260.50,172.50 L262.50,174.32 L264.50,176.16 L266.50,178.00 L268.50,179.85 L270.50,181.70 L272.50,183.57 L274.50,185.44 L276.50,187.33 L278.50,189.23 L280.50,191.14 L282.50,193.06 L284.50,195.00 L286.50,196.95 L288.50,198.92 L290.50,200.91 L292.50,202.91 L294.50,204.94 L296.50,206.99 L298.50,209.06 L300.50,211.16 L302.50,213.29 L304.50,215.45 L306.50,217.64 L308.50,219.86 L310.50,222.12 L312.50,224.42 L314.50,226.75 L316.50,229.13 L318.50,231.55 L320.50,234.01 L322.50,236.50 L324.50,239.01 L326.50,241.53 L328.50,244.04 L330.50,246.53 L332.50,249.00 L334.50,251.42 L336.50,253.79 L338.50,256.09 L340.50,258.32 L342.50,260.45 L344.50,262.49 L346.50,264.41 L348.50,266.20 L350.50,267.85 L352.50,269.36 L354.50,270.70 L356.50,271.87 L358.50,272.87 L360.50,273.70 L362.50,274.37 L364.50,274.87 L366.50,275.21 L368.50,275.40 L370.50,275.43 L372.50,275.30 L374.50,275.02 L376.50,274.59 L378.50,274.01 L380.50,273.28 L382.50,272.41 L384.50,271.40 L386.50,270.25 L388.50,268.96 L390.50,267.55 L392.50,266.00 L394.50,264.34 L396.50,262.57 L398.50,260.69 L400.50,258.72 L402.50,256.65 L404.50,254.49 L406.50,252.26 L408.50,249.95 L410.50,247.58 L412.50,245.15 L414.50,242.66 L416.50,240.12 L418.50,237.55 L420.50,234.93 L422.50,232.28 L424.50,229.59 L426.50,226.87 L428.50,224.11 L430.50,221.33 L432.50,218.53 L434.50,215.70 L436.50,212.85 L438.50,209.98 L440.50,207.09 L442.50,204.19 L444.50,201.28 L446.50,198.36 L448.50,195.43 L450.50,192.49 L452.50,189.55 L454.50,186.61 L456.50,183.66 L458.50,180.70 L460.50,177.74 L462.50,174.77 L464.50,171.79 L466.50,168.81 L468.50,165.83 L470.50,162.84 L472.50,159.84 L474.50,156.84 L476.50,153.83 L478.50,150.81 L480.50,147.79 L482.50,144.76 L484.50,141.72 L486.50,138.67 L488.50,135.61 L490.50,132.54 L492.50,129.46 L494.50,126.36 L496.50,123.26 L498.50,120.13 L500.50,117.00 L502.50,113.85 L504.50,110.68 L506.50,107.50 L508.50,104.30 L510.50,101.08 L512.50,97.84 L514.50,94.58 L516.50,91.30 L518.50,88.00 L520.50,84.67 L522.50,81.33 L524.50,77.96 L526.50,74.56 L528.50,71.14 L530.50,67.70 L532.50,64.23 L534.50,60.73 L536.50,57.20" stroke="#0072B2" stroke-width="3.9"/>
<path d="M110.50,57.20 L112.50,57.58 L114.50,57.95 L116.50,58.32 L118.50,58.68 L120.50,59.03 L122.50,59.38 L124.50,59.72 L126.50,60.06 L128.50,60.39 L130.50,60.72 L132.50,61.04 L134.50,61.36 L136.50,61.68 L138.50,61.99 L140.50,62.30 L142.50,62.61 L144.50,62.92 L146.50,63.22 L148.50,63.52 L150.50,63.82 L152.50,64.12 L154.50,64.42 L156.50,64.72 L158.50,65.01 L160.50,65.31 L162.50,65.61 L164.50,65.91 L166.50,66.21 L168.50,66.51 L170.50,66.81 L172.50,67.12 L174.50,67.42 L176.50,67.73 L178.50,68.05 L180.50,68.36 L182.50,68.68 L184.50,69.01 L186.50,69.33 L188.50,69.67 L190.50,70.00 L192.50,70.34 L194.50,70.69 L196.50,71.05 L198.50,71.40 L200.50,71.77 L202.50,72.14 L204.50,72.52 L206.50,72.91 L208.50,73.30 L210.50,73.70 L212.50,74.11 L214.50,74.53 L216.50,74.96 L218.50,75.40 L220.50,75.84 L222.50,76.30 L224.50,76.76 L226.50,77.24 L228.50,77.73 L230.50,78.22 L232.50,78.73 L234.50,79.25 L236.50,79.79 L238.50,80.33 L240.50,80.89 L242.50,81.46 L244.50,82.04 L246.50,82.64 L248.50,83.25 L250.50,83.87 L252.50,84.51 L254.50,85.16 L256.50,85.83 L258.50,86.52 L260.50,87.21 L262.50,87.92 L264.50,88.64 L266.50,89.38 L268.50,90.13 L270.50,90.89 L272.50,91.66 L274.50,92.45 L276.50,93.24 L278.50,94.05 L280.50,94.87 L282.50,95.70 L284.50,96.54 L286.50,97.38 L288.50,98.24 L290.50,99.11 L292.50,99.98 L294.50,100.87 L296.50,101.76 L298.50,102.66 L300.50,103.57 L302.50,104.48 L304.50,105.41 L306.50,106.33 L308.50,107.27 L310.50,108.21 L312.50,109.16 L314.50,110.11 L316.50,111.06 L318.50,112.01 L320.50,112.95 L322.50,113.87 L324.50,114.77 L326.50,115.64 L328.50,116.47 L330.50,117.27 L332.50,118.02 L334.50,118.73 L336.50,119.37 L338.50,119.95 L340.50,120.47 L342.50,120.91 L344.50,121.27 L346.50,121.54 L348.50,121.73 L350.50,121.81 L352.50,121.80 L354.50,121.68 L356.50,121.46 L358.50,121.15 L360.50,120.74 L362.50,120.24 L364.50,119.66 L366.50,119.00 L368.50,118.25 L370.50,117.43 L372.50,116.54 L374.50,115.59 L376.50,114.57 L378.50,113.49 L380.50,112.38 L382.50,111.23 L384.50,110.05 L386.50,108.86 L388.50,107.66 L390.50,106.47 L392.50,105.29 L394.50,104.11 L396.50,102.95 L398.50,101.80 L400.50,100.66 L402.50,99.53 L404.50,98.41 L406.50,97.30 L408.50,96.21 L410.50,95.13 L412.50,94.06 L414.50,93.01 L416.50,91.97 L418.50,90.94 L420.50,89.93 L422.50,88.93 L424.50,87.95 L426.50,86.98 L428.50,86.02 L430.50,85.08 L432.50,84.16 L434.50,83.25 L436.50,82.36 L438.50,81.48 L440.50,80.62 L442.50,79.78 L444.50,78.96 L446.50,78.15 L448.50,77.36 L450.50,76.59 L452.50,75.83 L454.50,75.09 L456.50,74.37 L458.50,73.67 L460.50,72.98 L462.50,72.31 L464.50,71.66 L466.50,71.02 L468.50,70.40 L470.50,69.79 L472.50,69.20 L474.50,68.62 L476.50,68.06 L478.50,67.52 L480.50,66.98 L482.50,66.47 L484.50,65.96 L486.50,65.47 L488.50,65.00 L490.50,64.54 L492.50,64.09 L494.50,63.65 L496.50,63.23 L498.50,62.82 L500.50,62.43 L502.50,62.04 L504.50,61.67 L506.50,61.31 L508.50,60.96 L510.50,60.62 L512.50,60.30 L514.50,59.98 L516.50,59.68 L518.50,59.39 L520.50,59.10 L522.50,58.83 L524.50,58.57 L526.50,58.32 L528.50,58.08 L530.50,57.84 L532.50,57.62 L534.50,57.41 L536.50,57.20" stroke="#009E73" stroke-width="3.9"/>
<path d="M110.50,57.20 L112.50,57.08 L114.50,56.95 L116.50,56.83 L118.50,56.70 L120.50,56.57 L122.50,56.44 L124.50,56.31 L126.50,56.18 L128.50,56.04 L130.50,55.91 L132.50,55.78 L134.50,55.64 L136.50,55.51 L138.50,55.37 L140.50,55.24 L142.50,55.10 L144.50,54.97 L146.50,54.84 L148.50,54.71 L150.50,54.58 L152.50,54.45 L154.50,54.32 L156.50,54.20 L158.50,54.08 L160.50,53.96 L162.50,53.84 L164.50,53.72 L166.50,53.61 L168.50,53.50 L170.50,53.40 L172.50,53.30 L174.50,53.20 L176.50,53.11 L178.50,53.01 L180.50,52.93 L182.50,52.85 L184.50,52.77 L186.50,52.70 L188.50,52.63 L190.50,52.57 L192.50,52.52 L194.50,52.47 L196.50,52.42 L198.50,52.38 L200.50,52.35 L202.50,52.33 L204.50,52.31 L206.50,52.30 L208.50,52.29 L210.50,52.29 L212.50,52.30 L214.50,52.32 L216.50,52.35 L218.50,52.38 L220.50,52.42 L222.50,52.47 L224.50,52.52 L226.50,52.59 L228.50,52.65 L230.50,52.73 L232.50,52.81 L234.50,52.90 L236.50,52.99 L238.50,53.09 L240.50,53.19 L242.50,53.30 L244.50,53.41 L246.50,53.52 L248.50,53.64 L250.50,53.77 L252.50,53.90 L254.50,54.03 L256.50,54.16 L258.50,54.30 L260.50,54.44 L262.50,54.59 L264.50,54.73 L266.50,54.88 L268.50,55.03 L270.50,55.18 L272.50,55.33 L274.50,55.48 L276.50,55.64 L278.50,55.79 L280.50,55.95 L282.50,56.10 L284.50,56.26 L286.50,56.41 L288.50,56.57 L290.50,56.72 L292.50,56.87 L294.50,57.02 L296.50,57.17 L298.50,57.32 L300.50,57.46 L302.50,57.61 L304.50,57.75 L306.50,57.89 L308.50,58.02 L310.50,58.15 L312.50,58.28 L314.50,58.41 L316.50,58.53 L318.50,58.64 L320.50,58.75 L322.50,58.86 L324.50,58.97 L326.50,59.06 L328.50,59.15 L330.50,59.24 L332.50,59.32 L334.50,59.40 L336.50,59.47 L338.50,59.53 L340.50,59.58 L342.50,59.63 L344.50,59.67 L346.50,59.71 L348.50,59.74 L350.50,59.75 L352.50,59.76 L354.50,59.77 L356.50,59.76 L358.50,59.75 L360.50,59.72 L362.50,59.69 L364.50,59.65 L366.50,59.59 L368.50,59.53 L370.50,59.46 L372.50,59.38 L374.50,59.30 L376.50,59.20 L378.50,59.10 L380.50,59.00 L382.50,58.88 L384.50,58.77 L386.50,58.64 L388.50,58.52 L390.50,58.39 L392.50,58.25 L394.50,58.12 L396.50,57.98 L398.50,57.84 L400.50,57.70 L402.50,57.56 L404.50,57.42 L406.50,57.28 L408.50,57.14 L410.50,57.01 L412.50,56.88 L414.50,56.75 L416.50,56.62 L418.50,56.50 L420.50,56.39 L422.50,56.28 L424.50,56.17 L426.50,56.08 L428.50,55.98 L430.50,55.89 L432.50,55.81 L434.50,55.73 L436.50,55.66 L438.50,55.59 L440.50,55.53 L442.50,55.47 L444.50,55.42 L446.50,55.37 L448.50,55.33 L450.50,55.29 L452.50,55.26 L454.50,55.23 L456.50,55.20 L458.50,55.18 L460.50,55.17 L462.50,55.16 L464.50,55.15 L466.50,55.14 L468.50,55.15 L470.50,55.15 L472.50,55.16 L474.50,55.17 L476.50,55.19 L478.50,55.21 L480.50,55.23 L482.50,55.26 L484.50,55.29 L486.50,55.33 L488.50,55.37 L490.50,55.41 L492.50,55.46 L494.50,55.51 L496.50,55.56 L498.50,55.61 L500.50,55.67 L502.50,55.73 L504.50,55.80 L506.50,55.87 L508.50,55.94 L510.50,56.01 L512.50,56.09 L514.50,56.17 L516.50,56.25 L518.50,56.33 L520.50,56.42 L522.50,56.51 L524.50,56.60 L526.50,56.70 L528.50,56.79 L530.50,56.89 L532.50,56.99 L534.50,57.09 L536.50,57.20" stroke="#9400D3" stroke-width="3.9"/>
<path d="M110.50,57.40 L536.50,57.40" stroke="#E51E10" stroke-width="3.9"/>
</g>
<rect x="110.5" y="9.9" width="426.0" height="425.9" stroke="#000" stroke-width="0.75" fill="none"/>
<g font-family="'Liberation Serif', serif" font-size="20" fill="#000" stroke="#fff" stroke-width="0.22" opacity="0.99">
<text x="99.65" y="15.40" text-anchor="end" letter-spacing="0.55">0.005</text>
<text x="99.65" y="62.72" text-anchor="end" letter-spacing="0.55">0</text>
<text x="99.65" y="110.04" text-anchor="end" letter-spacing="0.55">0.005</text>
<rect x="38.30" y="104.04" width="12.5" height="1" />
<text x="99.65" y="157.37" text-anchor="end" letter-spacing="0.55">0.01</text>
<rect x="48.30" y="151.37" width="12.5" height="1" />
<text x="99.65" y="204.69" text-anchor="end" letter-spacing="0.55">0.015</text>
<rect x="38.30" y="198.69" width="12.5" height="1" />
<text x="99.65" y="252.01" text-anchor="end" letter-spacing="0.55">0.02</text>
<rect x="48.30" y="246.01" width="12.5" height="1" />
<text x="99.65" y="299.33" text-anchor="end" letter-spacing="0.55">0.025</text>
<rect x="38.30" y="293.33" width="12.5" height="1" />
<text x="99.65" y="346.66" text-anchor="end" letter-spacing="0.55">0.03</text>
<rect x="48.30" y="340.66" width="12.5" height="1" />
<text x="99.65" y="393.98" text-anchor="end" letter-spacing="0.55">0.035</text>
<rect x="38.30" y="387.98" width="12.5" height="1" />
<text x="99.65" y="441.30" text-anchor="end" letter-spacing="0.55">0.04</text>
<rect x="48.30" y="435.30" width="12.5" height="1" />
<text x="110.50" y="461.9" text-anchor="middle">0</text>
<text x="153.10" y="461.9" text-anchor="middle">5</text>
<text x="195.70" y="461.9" text-anchor="middle">10</text>
<text x="238.30" y="461.9" text-anchor="middle">15</text>
<text x="280.90" y="461.9" text-anchor="middle">20</text>
<text x="323.50" y="461.9" text-anchor="middle">25</text>
<text x="366.10" y="461.9" text-anchor="middle">30</text>
<text x="408.70" y="461.9" text-anchor="middle">35</text>
<text x="451.30" y="461.9" text-anchor="middle">40</text>
<text x="493.90" y="461.9" text-anchor="middle">45</text>
<text x="536.50" y="461.9" text-anchor="middle">50</text>
<text x="307" y="491.8" font-style="italic" font-size="22">x</text>
<path d="M319.3,496.3 L327.2,476.1" stroke="#000" stroke-width="1.05" fill="none"/>
<text x="329" y="491.8" font-style="italic" font-size="22">σ</text>
<text transform="translate(12.2,228.9) rotate(-90)" font-style="italic" font-size="22">u</text>
<text x="503.3" y="32.2" font-size="21" letter-spacing="0.45">(f)</text>
<text x="188" y="343.50" font-style="italic" font-size="21">t</text>
<rect x="201.00" y="335.34" width="13.7" height="1"/><rect x="201.00" y="339.43" width="13.7" height="1"/>
<text x="232.3" y="343.50" text-anchor="end">0</text>
<text x="128.9" y="363.90" textLength="32.2" lengthAdjust="spacingAndGlyphs">PM</text>
<text x="168" y="363.90" font-style="italic" font-size="21">t</text>
<rect x="181.50" y="355.74" width="13.7" height="1"/><rect x="181.50" y="359.83" width="13.7" height="1"/>
<text x="232.3" y="363.90" text-anchor="end">100</text>
<text x="232.3" y="384.30" text-anchor="end">300</text>
<text x="232.3" y="404.50" text-anchor="end">500</text>
<text x="211.8" y="427.60" font-size="25" textLength="20.6" lengthAdjust="spacingAndGlyphs">∞</text>
<text x="311.3" y="363.90" textLength="39.2" lengthAdjust="spacingAndGlyphs">EV1</text>
<text x="357.3" y="363.90" font-style="italic" font-size="21">t</text>
<rect x="370.80" y="355.74" width="13.7" height="1"/><rect x="370.80" y="359.83" width="13.7" height="1"/>
<text x="421.4" y="363.90" text-anchor="end">100</text>
<text x="421.4" y="384.30" text-anchor="end">300</text>
<text x="421.4" y="404.50" text-anchor="end">500</text>
<text x="400.6" y="427.60" font-size="25" textLength="20.6" lengthAdjust="spacingAndGlyphs">∞</text>
</g>
<path d="M244.4,338.40 H299.8" stroke="#000" stroke-width="3.4" stroke-dasharray="7.4 10.35" fill="none"/>
<circle cx="272.20" cy="358.30" r="3.3" fill="none" stroke="#0072B2" stroke-width="0.75"/><circle cx="272.20" cy="358.30" r="0.4" fill="#0072B2"/>
<circle cx="272.20" cy="378.90" r="0.4" fill="#009E73"/><path d="M272.20,375.40 L275.60,381.00 L268.80,381.00 Z" fill="none" stroke="#009E73" stroke-width="0.75"/>
<circle cx="272.20" cy="399.40" r="0.4" fill="#9400D3"/><path d="M272.20,395.80 L275.80,399.40 L272.20,403.00 L268.60,399.40 Z" fill="none" stroke="#9400D3" stroke-width="0.75"/>
<circle cx="272.20" cy="420.20" r="0.4" fill="#E51E10"/><path d="M272.20,416.65 L275.58,419.10 L274.29,423.07 L270.11,423.07 L268.82,419.10 Z" fill="none" stroke="#E51E10" stroke-width="0.75"/>
<path d="M433.2,338.30 H488.8" stroke="#F0E442" stroke-width="0.8" fill="none" opacity="0.5"/>
<path d="M433.3,358.55 H488.7" stroke="#0072B2" stroke-width="3.9" fill="none"/>
<path d="M433.3,378.95 H488.7" stroke="#009E73" stroke-width="3.9" fill="none"/>
<path d="M433.3,399.15 H488.7" stroke="#9400D3" stroke-width="3.9" fill="none"/>
<path d="M433.3,419.55 H488.7" stroke="#E51E10" stroke-width="3.9" fill="none"/>
</svg>
</body></html>
